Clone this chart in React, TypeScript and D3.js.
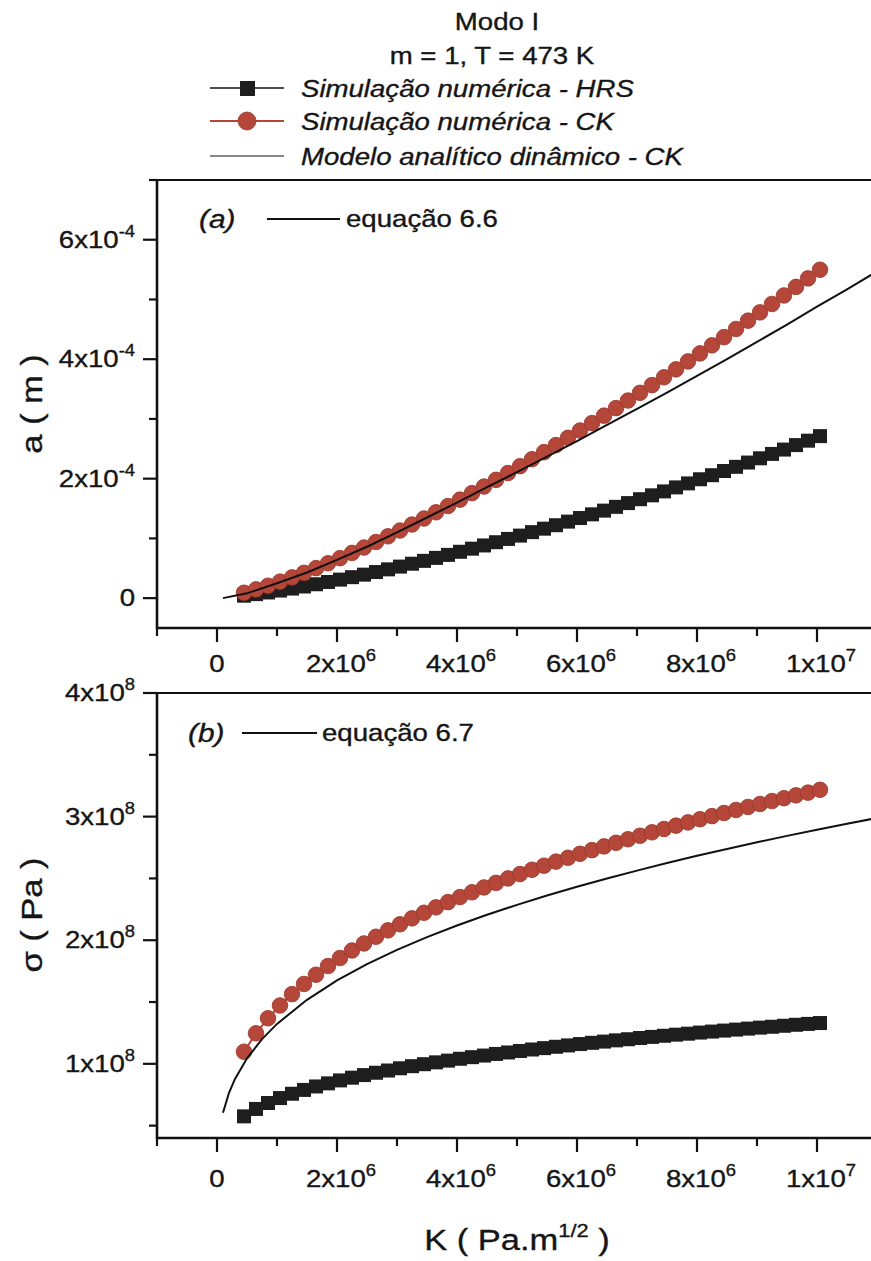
import React from 'react';
import * as d3 from 'd3';

// K values (x 1e6 Pa.m^1/2)
const K = [0.45, 0.65, 0.85, 1.05, 1.25, 1.45, 1.65, 1.85, 2.05, 2.25, 2.45, 2.65, 2.85, 3.05, 3.25, 3.45, 3.65, 3.85, 4.05, 4.25, 4.45, 4.65, 4.85, 5.05, 5.25, 5.45, 5.65, 5.85, 6.05, 6.25, 6.45, 6.65, 6.85, 7.05, 7.25, 7.45, 7.65, 7.85, 8.05, 8.25, 8.45, 8.65, 8.85, 9.05, 9.25, 9.45, 9.65, 9.85, 10.05];
// crack length a (x 1e-4 m)
const aCK = [0.09, 0.146, 0.208, 0.276, 0.347, 0.423, 0.502, 0.584, 0.669, 0.757, 0.847, 0.94, 1.035, 1.132, 1.232, 1.333, 1.437, 1.542, 1.649, 1.758, 1.868, 1.98, 2.094, 2.209, 2.326, 2.444, 2.563, 2.684, 2.806, 2.93, 3.055, 3.181, 3.308, 3.437, 3.566, 3.697, 3.83, 3.963, 4.097, 4.232, 4.369, 4.506, 4.645, 4.784, 4.925, 5.067, 5.21, 5.353, 5.498];
const aHRS = [0.041, 0.067, 0.095, 0.127, 0.16, 0.195, 0.232, 0.27, 0.31, 0.351, 0.393, 0.437, 0.482, 0.528, 0.576, 0.624, 0.674, 0.724, 0.776, 0.828, 0.882, 0.936, 0.991, 1.047, 1.105, 1.163, 1.221, 1.281, 1.341, 1.403, 1.465, 1.528, 1.591, 1.656, 1.721, 1.787, 1.854, 1.921, 1.99, 2.058, 2.128, 2.198, 2.27, 2.341, 2.414, 2.487, 2.562, 2.636, 2.712];
// stress sigma (x 1e8 Pa)
const sCK = [1.098, 1.247, 1.369, 1.472, 1.564, 1.646, 1.721, 1.791, 1.856, 1.917, 1.974, 2.028, 2.08, 2.129, 2.177, 2.222, 2.266, 2.308, 2.349, 2.388, 2.427, 2.464, 2.5, 2.535, 2.57, 2.603, 2.636, 2.667, 2.699, 2.729, 2.759, 2.788, 2.817, 2.845, 2.873, 2.9, 2.927, 2.953, 2.979, 3.004, 3.029, 3.054, 3.078, 3.102, 3.126, 3.149, 3.172, 3.194, 3.217];
const sHRS = [0.575, 0.635, 0.683, 0.723, 0.758, 0.789, 0.817, 0.842, 0.866, 0.888, 0.909, 0.928, 0.946, 0.964, 0.981, 0.997, 1.012, 1.026, 1.041, 1.054, 1.067, 1.08, 1.092, 1.104, 1.116, 1.127, 1.138, 1.149, 1.16, 1.17, 1.18, 1.19, 1.199, 1.209, 1.218, 1.227, 1.236, 1.244, 1.253, 1.261, 1.269, 1.277, 1.285, 1.293, 1.3, 1.308, 1.316, 1.323, 1.33];
// analytical model curves
const eq66K = [0.1, 0.5, 1.0, 1.5, 2.0, 2.5, 3.0, 3.5, 4.0, 4.5, 5.0, 5.5, 6.0, 6.5, 7.0, 7.5, 8.0, 8.5, 9.0, 9.5, 10.0, 10.5, 11.0];
const eq66 = [0.0, 0.08, 0.25, 0.43, 0.64, 0.86, 1.1, 1.35, 1.6, 1.86, 2.11, 2.37, 2.63, 2.9, 3.17, 3.44, 3.72, 4.0, 4.29, 4.58, 4.88, 5.17, 5.47];
const eq67K = [0.1, 0.2, 0.3, 0.5, 0.75, 1.0, 1.5, 2.0, 2.5, 3.0, 3.5, 4.0, 4.5, 5.0, 5.5, 6.0, 6.5, 7.0, 7.5, 8.0, 8.5, 9.0, 9.5, 10.0, 10.5, 11.0];
const eq67 = [0.604, 0.766, 0.878, 1.045, 1.2, 1.323, 1.518, 1.675, 1.806, 1.922, 2.025, 2.119, 2.206, 2.286, 2.362, 2.433, 2.5, 2.563, 2.624, 2.683, 2.738, 2.792, 2.844, 2.894, 2.942, 2.989];

// ticks
const xMajor = [0, 2e6, 4e6, 6e6, 8e6, 1e7];
const xMant = ['0', '2x10', '4x10', '6x10', '8x10', '1x10'];
const xExp = ['', '6', '6', '6', '6', '7'];
const xMinor = [-1e6, 1e6, 3e6, 5e6, 7e6, 9e6, 1.1e7];
const aMajor = [0, 2e-4, 4e-4, 6e-4];
const aMant = ['0', '2x10', '4x10', '6x10'];
const aExp = ['', '-4', '-4', '-4'];
const aMinor = [1e-4, 3e-4, 5e-4, 7e-4];
const sMajor = [1e8, 2e8, 3e8, 4e8];
const sMant = ['1x10', '2x10', '3x10', '4x10'];
const sExp = ['8', '8', '8', '8'];
const sMinor = [0.5e8, 1.5e8, 2.5e8, 3.5e8];

const FONT = "'Liberation Sans', Arial, Helvetica, sans-serif";
const SX = 1.15;
const RED = '#b4473a';
const DARK = '#1e1e1e';
const INK = '#151515';

function ST({ x, y, anchor = 'start', size = 24, italic = false, rotate = 0, children }: any) {
  return (
    <g transform={`translate(${x},${y}) rotate(${rotate}) scale(${SX},1)`}>
      <text x={0} y={0} textAnchor={anchor} fontSize={size} fontStyle={italic ? 'italic' : 'normal'} fontFamily={FONT}
        fill={INK} stroke={INK} strokeWidth={0.35}>
        {children}
      </text>
    </g>
  );
}

const x = d3.scaleLinear().domain([-1e6, 1.1e7]).range([157, 877]);
const ya = d3.scaleLinear().domain([-0.5e-4, 7e-4]).range([628, 180]);
const ys = d3.scaleLinear().domain([0.4e8, 4e8]).range([1138, 693]);

function Panel({ y, top, bottom, yMajor, yMant, yExp, yMinor, labelY, idPrefix, ck, hrs, eqK, eqV, yScaleF, tag, eqLabel, tagX, lineX1, lineX2, eqX, legY }: any) {
  const left = x.range()[0];
  const right = x.range()[1];
  const line = d3.line<[number, number]>().x(d => x(d[0])).y(d => y(d[1]));
  const ckPts: [number, number][] = K.map((k, i) => [k * 1e6, ck[i] * yScaleF]);
  const hrsPts: [number, number][] = K.map((k, i) => [k * 1e6, hrs[i] * yScaleF]);
  const eqPts: [number, number][] = eqK.map((k: number, i: number) => [k * 1e6, eqV[i] * yScaleF]);
  return (
    <g>
      <defs>
        <clipPath id={idPrefix + 'clip'}>
          <rect x={left} y={top} width={right - left} height={bottom - top} />
        </clipPath>
      </defs>
      {/* frame */}
      <line x1={left - 2} x2={right} y1={top} y2={top} stroke="#111" strokeWidth={2} />
      <line x1={right} x2={right} y1={top} y2={bottom} stroke="#111" strokeWidth={2} />
      <line x1={left} x2={left} y1={top - 1} y2={bottom + 1} stroke="#111" strokeWidth={2.6} />
      <line x1={left - 1} x2={right} y1={bottom} y2={bottom} stroke="#111" strokeWidth={2.6} />
      {/* y ticks */}
      {yMajor.map((v: number, i: number) => (
        <g key={'ym' + i}>
          <line x1={left - 14} x2={left} y1={y(v)} y2={y(v)} stroke="#111" strokeWidth={2.2} />
          <ST x={left - 22} y={y(v) + 8} anchor="end">
            {yMant[i]}
            {yExp[i] ? <tspan fontSize={16} dy={-11}>{yExp[i]}</tspan> : null}
          </ST>
        </g>
      ))}
      {yMinor.map((v: number, i: number) => (
        <line key={'yn' + i} x1={left - 8} x2={left} y1={y(v)} y2={y(v)} stroke="#111" strokeWidth={2.2} />
      ))}
      {/* x ticks */}
      {xMajor.map((v, i) => (
        <g key={'xm' + i}>
          <line x1={x(v)} x2={x(v)} y1={bottom} y2={bottom + 14} stroke="#111" strokeWidth={2.2} />
          <ST x={x(v) + (xExp[i] ? 4 : 0)} y={labelY} anchor="middle">
            {xMant[i]}
            {xExp[i] ? <tspan fontSize={16} dy={-11}>{xExp[i]}</tspan> : null}
          </ST>
        </g>
      ))}
      {xMinor.map((v, i) => (
        <line key={'xn' + i} x1={x(v)} x2={x(v)} y1={bottom} y2={bottom + 8} stroke="#111" strokeWidth={2.2} />
      ))}
      {/* data */}
      <g clipPath={`url(#${idPrefix}clip)`}>
        <path d={line(hrsPts) || ''} fill="none" stroke={DARK} strokeWidth={1.5} />
        {hrsPts.map((p, i) => (
          <rect key={'h' + i} x={x(p[0]) - 7} y={y(p[1]) - 7} width={14} height={14} fill={DARK} />
        ))}
        <path d={line(ckPts) || ''} fill="none" stroke={RED} strokeWidth={2} />
        {ckPts.map((p, i) => (
          <circle key={'c' + i} cx={x(p[0])} cy={y(p[1])} r={7.8} fill={RED} stroke="#9a3628" strokeWidth={0.8} />
        ))}
        <path d={line(eqPts) || ''} fill="none" stroke="#111" strokeWidth={2} />
      </g>
      {/* panel legend */}
      <ST x={tagX} y={legY + 9} italic size={26}>{tag}</ST>
      <line x1={lineX1} x2={lineX2} y1={legY} y2={legY} stroke="#111" strokeWidth={2} />
      <ST x={eqX} y={legY + 8}>{eqLabel}</ST>
    </g>
  );
}

export default function App() {
  return (
    <svg width={871} height={1261} style={{ position: 'absolute', left: 0, top: 0, background: '#fff' }}>
      <rect x={0} y={0} width={871} height={1261} fill="#fff" />
      {/* Title and legend */}
      <ST x={497} y={30} anchor="middle">Modo I</ST>
      <ST x={492} y={64} anchor="middle">m = 1, T = 473 K</ST>
      <line x1={210} x2={284} y1={88} y2={88} stroke="#111" strokeWidth={1.5} />
      <rect x={240} y={81} width={15} height={15} fill={DARK} />
      <ST x={301} y={97} italic>Simulação numérica - HRS</ST>
      <line x1={210} x2={284} y1={121} y2={121} stroke={RED} strokeWidth={2} />
      <circle cx={247} cy={121} r={9} fill={RED} stroke="#9a3628" strokeWidth={0.8} />
      <ST x={301} y={130} italic>Simulação numérica - CK</ST>
      <line x1={210} x2={284} y1={156} y2={156} stroke="#111" strokeWidth={1} />
      <ST x={301} y={165} italic>Modelo analítico dinâmico - CK</ST>

      <Panel y={ya} top={180} bottom={628} yMajor={aMajor} yMant={aMant} yExp={aExp} yMinor={aMinor}
        labelY={672} idPrefix="pa" ck={aCK} hrs={aHRS} eqK={eq66K} eqV={eq66} yScaleF={1e-4}
        tag="(a)" eqLabel="equação 6.6" tagX={199} lineX1={267} lineX2={340} eqX={346} legY={219} />
      <Panel y={ys} top={693} bottom={1138} yMajor={sMajor} yMant={sMant} yExp={sExp} yMinor={sMinor}
        labelY={1187} idPrefix="pb" ck={sCK} hrs={sHRS} eqK={eq67K} eqV={eq67} yScaleF={1e8}
        tag="(b)" eqLabel="equação 6.7" tagX={188} lineX1={242} lineX2={317} eqX={322} legY={733} />

      {/* axis titles */}
      <ST x={42} y={404} anchor="middle" size={30} rotate={-90}>a ( m )</ST>
      <ST x={42} y={915} anchor="middle" size={30} rotate={-90}>σ ( Pa )</ST>
      <ST x={517} y={1250} anchor="middle" size={30}>
        K ( Pa.m<tspan fontSize={19} dy={-13}>1/2</tspan><tspan dy={13}> )</tspan>
      </ST>
    </svg>
  );
}
